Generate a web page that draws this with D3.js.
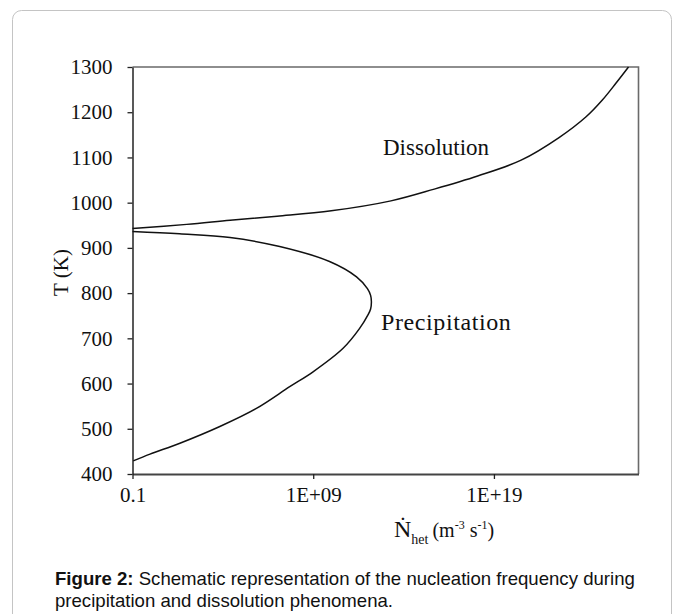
<!DOCTYPE html>
<html>
<head>
<meta charset="utf-8">
<script src="https://cdn.jsdelivr.net/npm/d3@7/dist/d3.min.js"></script>
<style>
  html, body { margin: 0; padding: 0; background: #ffffff; }
  svg { display: block; }
</style>
</head>
<body>
<svg id="chart" width="681" height="614"></svg>
<script>
// ---- data ----
const xTickValues = [0.1, 1e9, 1e19];
const xTickLabels = ["0.1", "1E+09", "1E+19"];
const yTickValues = [400, 500, 600, 700, 800, 900, 1000, 1100, 1200, 1300];

// Dissolution curve: nucleation frequency (m^-3 s^-1) vs temperature (K)
const dissolutionN = [0.1, 1e2, 2.5e4, 1e7, 1e10, 2e13, 5e15, 1.26e18, 3.2e20, 4e22, 1.26e24, 1e25, 5.6e25, 2.8e26];
const dissolutionT = [943, 952, 961, 970, 982, 1004, 1030, 1059, 1094, 1144, 1190, 1227, 1264, 1300];

// Precipitation curve
const precipitationN = [0.1, 4e1, 2.5e4, 1.4e7, 8e9, 2.5e11, 1e12, 1.5e12, 1.66e12, 1.5e12, 1.07e12, 3.7e11, 4.5e10, 9.8e8, 5e7, 7.2e5, 6.8e3, 4.2e1, 0.93, 0.11];
const precipitationT = [936, 931, 923, 903, 870, 836, 810, 795, 781, 765, 752, 722, 678, 626, 593, 545, 505, 468, 444, 429];

const seriesLabels = ["Dissolution", "Precipitation"];
const captionBold = "Figure 2:";
const captionLine1 = " Schematic representation of the nucleation frequency during";
const captionLine2 = "precipitation and dissolution phenomena.";

// ---- layout ----
const svg = d3.select("#chart");
const L = 132.5, R = 638.5, T = 67, B = 474;
const serif = "'Liberation Serif', 'Times New Roman', serif";
const sans = "'Liberation Sans', Arial, sans-serif";

// frame
svg.append("rect")
  .attr("x", 12.5).attr("y", 10.5).attr("width", 659).attr("height", 640)
  .attr("rx", 9).attr("ry", 9)
  .attr("fill", "#fff").attr("stroke", "#c4c4c4").attr("stroke-width", 1);

const x = d3.scaleLog().domain([0.1, 1e27]).range([L, R]);
const y = d3.scaleLinear().domain([400, 1300]).range([B, T]);

// plot border (top/right)
svg.append("path")
  .attr("d", `M${L},${T}H${R}V${B}`)
  .attr("fill", "none").attr("stroke", "#6a6a6a").attr("stroke-width", 1.6);

// axes
const xAxis = d3.axisBottom(x)
  .tickValues(xTickValues)
  .tickFormat((d, i) => xTickLabels[i])
  .tickSizeInner(5).tickSizeOuter(0).tickPadding(8);
const gx = svg.append("g").attr("transform", `translate(0,${B})`).call(xAxis);

const yAxis = d3.axisLeft(y)
  .tickValues(yTickValues)
  .tickFormat(d3.format("d"))
  .tickSizeInner(5).tickSizeOuter(0).tickPadding(15);
const gy = svg.append("g").attr("transform", `translate(${L},0)`).call(yAxis);

[gx, gy].forEach(g => {
  g.select(".domain").attr("stroke", "#222").attr("stroke-width", 1.5);
  g.selectAll(".tick line").attr("stroke", "#222").attr("stroke-width", 1.3);
  g.selectAll(".tick text")
    .attr("font-family", serif).attr("font-size", 21).attr("fill", "#111");
});
gx.select(".domain").attr("stroke", "#444").attr("stroke-width", 1.8);

// curves
const line = d3.line()
  .x(d => x(d[0])).y(d => y(d[1]))
  .curve(d3.curveCatmullRom.alpha(0.5));

const dissolution = dissolutionN.map((n, i) => [n, dissolutionT[i]]);
const precipitation = precipitationN.map((n, i) => [n, precipitationT[i]]);

[dissolution, precipitation].forEach(s => {
  svg.append("path")
    .attr("d", line(s))
    .attr("fill", "none").attr("stroke", "#111").attr("stroke-width", 1.5);
});

// curve labels
svg.append("text").attr("x", 383).attr("y", 155)
  .attr("font-family", serif).attr("font-size", 23).attr("fill", "#111")
  .text(seriesLabels[0]);
svg.append("text").attr("x", 381).attr("y", 330)
  .attr("font-family", serif).attr("font-size", 24).attr("fill", "#111")
  .attr("letter-spacing", 0.6)
  .text(seriesLabels[1]);

// y axis title
svg.append("text")
  .attr("transform", `translate(68,${(T + B) / 2 + 2}) rotate(-90)`)
  .attr("text-anchor", "middle")
  .attr("font-family", serif).attr("font-size", 21).attr("fill", "#111")
  .text("T (K)");

// x axis title
const xt = svg.append("text")
  .attr("x", 394).attr("y", 537)
  .attr("font-family", serif).attr("fill", "#111");
xt.append("tspan").attr("font-size", 24).text("\u1E44");
xt.append("tspan").attr("font-size", 14).attr("dy", 7).text("het");
xt.append("tspan").attr("font-size", 20).attr("dy", -7).attr("dx", 4).text("(m");
xt.append("tspan").attr("font-size", 12).attr("dy", -8).text("-3");
xt.append("tspan").attr("font-size", 20).attr("dy", 8).text(" s");
xt.append("tspan").attr("font-size", 12).attr("dy", -8).text("-1");
xt.append("tspan").attr("font-size", 20).attr("dy", 8).text(")");

// caption
const c1 = svg.append("text").attr("x", 55).attr("y", 585)
  .attr("font-family", sans).attr("font-size", 18.6).attr("fill", "#111");
c1.append("tspan").attr("font-weight", "bold").text(captionBold);
c1.append("tspan").text(captionLine1);
svg.append("text").attr("x", 55).attr("y", 607)
  .attr("font-family", sans).attr("font-size", 18.6).attr("fill", "#111")
  .text(captionLine2);
</script>
</body>
</html>
